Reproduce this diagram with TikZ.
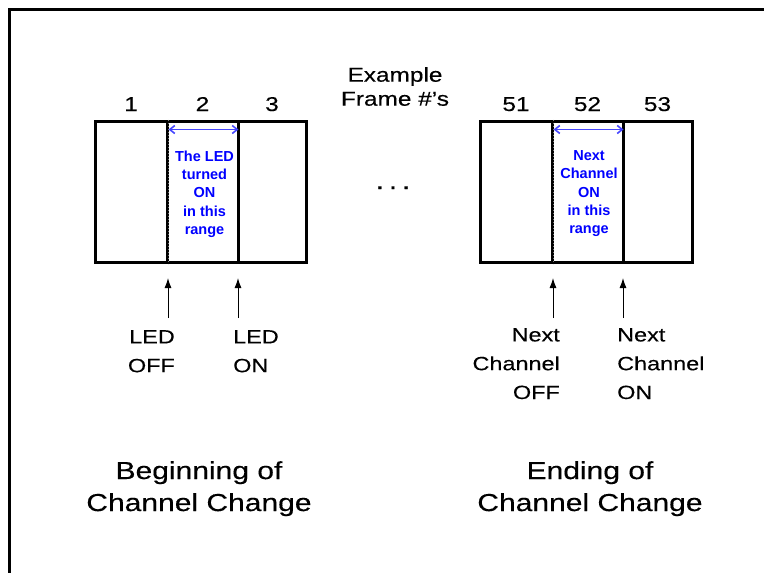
\documentclass[tikz,border=0pt]{standalone}
\usepackage{fontspec}
\setmainfont[FakeStretch=1.22,FakeBold=0.3]{Liberation Sans}
\newfontfamily\plainsans{Liberation Sans}
\usetikzlibrary{arrows.meta}
\definecolor{rangeblue}{RGB}{0,0,255}
\definecolor{arrowblue}{RGB}{70,70,255}

\begin{document}
\begin{tikzpicture}[x=1pt,y=-1pt,
  cell/.style={draw, line width=3pt, minimum height=141pt, inner sep=0pt},
  framenum/.style={font=\fontsize{20}{24}\selectfont, inner sep=0pt, anchor=base},
  heading/.style={font=\fontsize{20}{24}\selectfont, inner sep=0pt, align=center},
  marker/.style={font=\fontsize{19.2}{28.8}\selectfont, inner sep=0pt},
  caption/.style={font=\fontsize{24.6}{32}\selectfont, inner sep=0pt, align=center},
  rangetext/.style={font=\plainsans\bfseries\fontsize{14.5}{18.3}\selectfont,
    text=rangeblue, inner sep=0pt, align=center},
  rangearrow/.style={draw=arrowblue, line width=1.6pt,
    {Straight Barb[length=5pt,width=8pt]}-{Straight Barb[length=5pt,width=8pt]}},
  pointer/.style={draw, line width=1pt, -{Latex[length=10pt,width=7pt]}},
  edgeline/.style={draw=gray, line width=1pt, dotted}
]
\useasboundingbox (0,0) rectangle (764,573);
\begin{scope}
\clip (0,0) rectangle (764,573);
% outer border, running off the right and bottom edges
\draw[line width=3.5pt] (9.5,620) -- (9.5,9.5) -- (820,9.5);
\end{scope}

% frame strips
\node[cell, minimum width=72pt] (c1) at (131,191.5) {};
\node[cell, minimum width=71pt] (c2) at (202.5,191.5) {};
\node[cell, minimum width=68pt] (c3) at (272,191.5) {};
\node[cell, minimum width=72pt] (d1) at (516,191.5) {};
\node[cell, minimum width=71pt] (d2) at (587.5,191.5) {};
\node[cell, minimum width=69pt] (d3) at (657.5,191.5) {};

% frame numbers
\node[framenum] (n1) at (131,111) {1};
\node[framenum] (n2) at (202.5,111) {2};
\node[framenum] (n3) at (272,111) {3};
\node[framenum] (n51) at (516,111) {51};
\node[framenum] (n52) at (587.5,111) {52};
\node[framenum] (n53) at (657.5,111) {53};
\node[heading, anchor=north] (hdr) at (395,67) {Example\\Frame \#’s};
\node[framenum, font=\fontsize{24}{24}\selectfont] (gap) at (393,189) {.\hspace{5pt}.\hspace{5pt}.};

% dotted leading edge of the ON range
\draw[edgeline] ([xshift=3pt]c2.north west) -- ([xshift=3pt]c2.south west);
\draw[edgeline] ([xshift=3pt]d2.north west) -- ([xshift=3pt]d2.south west);

% ON range span arrows and notes
\draw[rangearrow] ([xshift=3pt,yshift=-10pt]c2.north west) -- ([xshift=-1pt,yshift=-10pt]c2.north east);
\draw[rangearrow] ([xshift=3pt,yshift=-10pt]d2.north west) -- ([xshift=-1pt,yshift=-10pt]d2.north east);
\node[rangetext, anchor=north] (r1) at (204.5,150.5) {The LED\\turned\\ON\\in this\\range};
\node[rangetext, anchor=north] (r2) at (589,150.5) {Next\\Channel\\ON\\in this\\range};

% event pointers
\coordinate (p1tail) at (168,318); \coordinate (p1tip) at (168,278);
\coordinate (p2tail) at (238,318); \coordinate (p2tip) at (238,278);
\coordinate (p3tail) at (553,318); \coordinate (p3tip) at (553,278);
\coordinate (p4tail) at (623,318); \coordinate (p4tip) at (623,278);
\draw[pointer] (p1tail) -- (p1tip);
\draw[pointer] (p2tail) -- (p2tip);
\draw[pointer] (p3tail) -- (p3tip);
\draw[pointer] (p4tail) -- (p4tip);

% event labels
\node[marker, align=right, anchor=north east] (m1) at (175,330) {LED\\OFF};
\node[marker, align=left, anchor=north west] (m2) at (233,330) {LED\\ON};
\node[marker, align=right, anchor=north east] (m3) at (560,328) {Next\\Channel\\OFF};
\node[marker, align=left, anchor=north west] (m4) at (617,328) {Next\\Channel\\ON};

% captions
\node[caption, anchor=north] (cap1) at (199,461) {Beginning of\\Channel Change};
\node[caption, anchor=north] (cap2) at (590,461) {Ending of\\Channel Change};
\end{tikzpicture}
\end{document}
